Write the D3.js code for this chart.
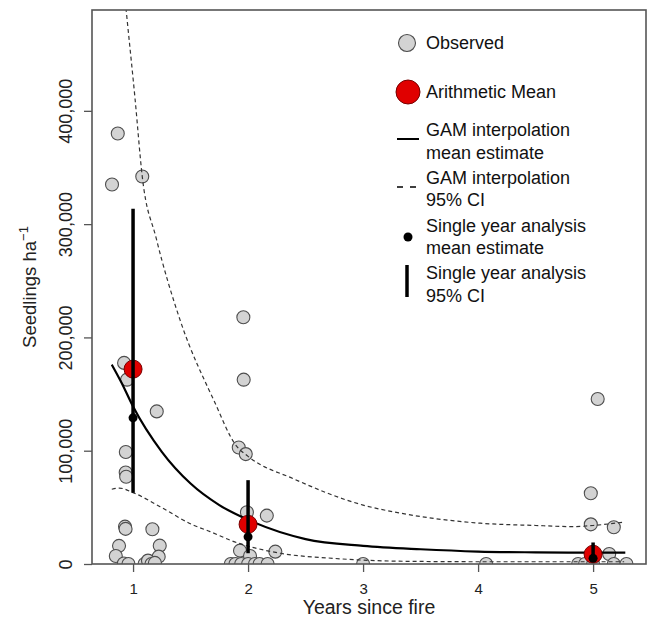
<!DOCTYPE html>
<html>
<head>
<meta charset="utf-8">
<script src="https://cdn.jsdelivr.net/npm/d3@7"></script>
<style>
  body { margin: 0; background: #fff; }
  svg { font-family: "Liberation Sans", Arial, sans-serif; }
</style>
</head>
<body>
<div id="chart"></div>
<script>
// observed plots (jittered year, seedlings per ha)
const obsYear = [0.867, 0.817, 1.08, 0.922, 0.948, 1.206, 0.937, 0.936, 0.94, 0.93, 0.935, 1.168, 0.878, 1.232, 0.85, 1.223, 0.92, 0.96, 1.1, 1.13, 1.16, 1.19,
  1.959, 1.962, 1.919, 1.98, 1.99, 2.163, 1.93, 2.237, 2.017, 1.85, 1.89, 1.94, 2.0, 2.06, 2.1, 2.17,
  3.0, 4.07,
  5.04, 4.98, 4.98, 5.18, 5.14, 4.87, 4.93, 5.0, 5.18, 5.29];
const obsDensity = [380000, 335000, 342000, 177500, 162700, 134700, 98800, 80700, 77000, 33000, 31000, 30700, 16000, 16200, 7000, 6500, 500, 0, 0, 3000, 0, 1000,
  217800, 162700, 102800, 97000, 45700, 42700, 11800, 10900, 7000, 0, 0, 0, 0, 0, 0, 0,
  0, 0,
  145600, 62500, 35000, 32400, 8800, 0, 0, 0, 0, 0];

// arithmetic means
const meanYear = [1, 2, 5];
const meanDensity = [172000, 35000, 8600];

// single year analysis
const singleYear = [1, 2, 5];
const singleEst = [129000, 24000, 5000];
const singleLo = [63000, 9500, 2000];
const singleHi = [313600, 74000, 19000];

// GAM interpolation
const gamX = [0.815, 0.9, 1.0, 1.25, 1.5, 1.75, 2.0, 2.5, 3.0, 3.5, 4.0, 4.5, 5.0, 5.28];
const gamMean = [176000, 160000, 139000, 99000, 71000, 52000, 39000, 22000, 16000, 13000, 11000, 10300, 10000, 10000];
const gamUpX = [0.815, 0.94, 1.017, 1.08, 1.2, 1.41, 1.7, 1.9, 2.0, 2.4, 3.0, 3.32, 4.02, 4.5, 4.83, 5.0, 5.27];
const gamUp = [620000, 489000, 411000, 342000, 288000, 215000, 145000, 104000, 95000, 75000, 52000, 45000, 36000, 34000, 33000, 34000, 37000];
const gamLoX = [0.815, 0.88, 1.0, 1.235, 1.52, 1.67, 1.87, 2.28, 2.74, 3.3, 4.0, 5.27];
const gamLo = [66000, 67000, 63000, 50600, 34500, 28600, 20000, 9500, 5000, 2500, 2000, 2000];

const xTicks = [1, 2, 3, 4, 5];
const yTicks = [0, 100000, 200000, 300000, 400000];

const width = 654;
const height = 629;
const plotLeft = 92, plotRight = 646, plotTop = 10, plotBottom = 564;

const svg = d3.select("#chart").append("svg").attr("width", width).attr("height", height);

const x = d3.scaleLinear().domain([0.643, 5.46]).range([plotLeft, plotRight]);
const y = d3.scaleLinear().domain([0, 489000]).range([plotBottom, plotTop]);

svg.append("clipPath").attr("id", "plot").append("rect")
  .attr("x", plotLeft).attr("y", plotTop).attr("width", plotRight - plotLeft).attr("height", plotBottom - plotTop);

const plot = svg.append("g").attr("clip-path", "url(#plot)");

// observed points
plot.selectAll(".obs")
  .data(obsYear.map((d, i) => [d, obsDensity[i]]))
  .enter()
  .append("circle")
  .attr("class", "obs")
  .attr("cx", (d) => x(d[0]))
  .attr("cy", (d) => y(d[1]))
  .attr("r", 6.5)
  .attr("fill", "#d3d3d3")
  .attr("stroke", "#4d4d4d")
  .attr("stroke-width", 1.1);

const line = d3.line().x((d) => x(d[0])).y((d) => y(d[1])).curve(d3.curveMonotoneX);

plot.append("path")
  .datum(gamUpX.map((d, i) => [d, gamUp[i]]))
  .attr("d", line)
  .attr("fill", "none").attr("stroke", "#333").attr("stroke-width", 1.2).attr("stroke-dasharray", "4,3");

plot.append("path")
  .datum(gamLoX.map((d, i) => [d, gamLo[i]]))
  .attr("d", line)
  .attr("fill", "none").attr("stroke", "#333").attr("stroke-width", 1.2).attr("stroke-dasharray", "4,3");

plot.append("path")
  .datum(gamX.map((d, i) => [d, gamMean[i]]))
  .attr("d", line)
  .attr("fill", "none").attr("stroke", "#000").attr("stroke-width", 2.2);

// arithmetic means
plot.selectAll(".mean")
  .data(meanYear.map((d, i) => [d, meanDensity[i]]))
  .enter()
  .append("circle")
  .attr("class", "mean")
  .attr("cx", (d) => x(d[0]))
  .attr("cy", (d) => y(d[1]))
  .attr("r", 9)
  .attr("fill", "#e00000")
  .attr("stroke", "#700")
  .attr("stroke-width", 1);

// single year CIs and estimates
plot.selectAll(".ci")
  .data(singleYear)
  .enter()
  .append("line")
  .attr("class", "ci")
  .attr("x1", (d) => x(d))
  .attr("x2", (d) => x(d))
  .attr("y1", (d, i) => y(singleLo[i]))
  .attr("y2", (d, i) => y(singleHi[i]))
  .attr("stroke", "#000")
  .attr("stroke-width", 3.5);

plot.selectAll(".est")
  .data(singleYear)
  .enter()
  .append("circle")
  .attr("class", "est")
  .attr("cx", (d) => x(d))
  .attr("cy", (d, i) => y(singleEst[i]))
  .attr("r", 4.5)
  .attr("fill", "#000");

// axes
const xAxis = d3.axisBottom(x).tickValues(xTicks).tickSize(8).tickPadding(11).tickFormat(d3.format("d"));
const gx = svg.append("g").attr("transform", `translate(0, ${plotBottom})`).call(xAxis);
gx.select(".domain").remove();
gx.selectAll("line").attr("stroke", "#555").attr("stroke-width", 1.3);
gx.selectAll("text").attr("font-size", 15).attr("fill", "#222");

const yAxis = d3.axisLeft(y).tickValues(yTicks).tickSize(8).tickFormat(d3.format(","));
const gy = svg.append("g").attr("transform", `translate(${plotLeft}, 0)`).call(yAxis);
gy.select(".domain").remove();
gy.selectAll("line").attr("stroke", "#555").attr("stroke-width", 1.3);
gy.selectAll("text")
  .attr("transform", "rotate(-90)")
  .attr("x", 0).attr("y", -20).attr("dy", 0)
  .attr("text-anchor", "middle")
  .attr("font-size", 18).attr("fill", "#222");

// box
svg.append("rect")
  .attr("x", plotLeft).attr("y", plotTop).attr("width", plotRight - plotLeft).attr("height", plotBottom - plotTop)
  .attr("fill", "none").attr("stroke", "#555").attr("stroke-width", 1.6);

// axis titles
svg.append("text")
  .attr("x", (plotLeft + plotRight) / 2).attr("y", 614)
  .attr("text-anchor", "middle").attr("font-size", 19.5).attr("fill", "#222")
  .text("Years since fire");

const yTitle = svg.append("text")
  .attr("transform", `translate(36, ${(plotTop + plotBottom) / 2}) rotate(-90)`)
  .attr("text-anchor", "middle").attr("font-size", 18.5).attr("fill", "#222");
yTitle.append("tspan").text("Seedlings ha");
yTitle.append("tspan").attr("dy", -8).attr("font-size", 13).text("\u22121");

// legend
const legend = svg.append("g").attr("font-size", 18).attr("fill", "#111");
const lx = 426;

legend.append("circle").attr("cx", 407).attr("cy", 43).attr("r", 8.5)
  .attr("fill", "#d3d3d3").attr("stroke", "#4d4d4d").attr("stroke-width", 1.1);
legend.append("text").attr("x", lx).attr("y", 49).text("Observed");

legend.append("circle").attr("cx", 408).attr("cy", 92).attr("r", 12)
  .attr("fill", "#e00000").attr("stroke", "#700").attr("stroke-width", 1);
legend.append("text").attr("x", lx).attr("y", 98).text("Arithmetic Mean");

legend.append("line").attr("x1", 397).attr("x2", 419).attr("y1", 139).attr("y2", 139)
  .attr("stroke", "#000").attr("stroke-width", 2);
legend.append("text").attr("x", lx).attr("y", 136).text("GAM interpolation");
legend.append("text").attr("x", lx).attr("y", 159).text("mean estimate");

legend.append("line").attr("x1", 397).attr("x2", 420).attr("y1", 187).attr("y2", 187)
  .attr("stroke", "#000").attr("stroke-width", 1.5).attr("stroke-dasharray", "6,7");
legend.append("text").attr("x", lx).attr("y", 184).text("GAM interpolation");
legend.append("text").attr("x", lx).attr("y", 206).text("95% CI");

legend.append("circle").attr("cx", 408).attr("cy", 237).attr("r", 4.5).attr("fill", "#000");
legend.append("text").attr("x", lx).attr("y", 232).text("Single year analysis");
legend.append("text").attr("x", lx).attr("y", 254).text("mean estimate");

legend.append("line").attr("x1", 407).attr("x2", 407).attr("y1", 265).attr("y2", 297)
  .attr("stroke", "#000").attr("stroke-width", 3.5);
legend.append("text").attr("x", lx).attr("y", 279).text("Single year analysis");
legend.append("text").attr("x", lx).attr("y", 302).text("95% CI");
</script>
</body>
</html>
